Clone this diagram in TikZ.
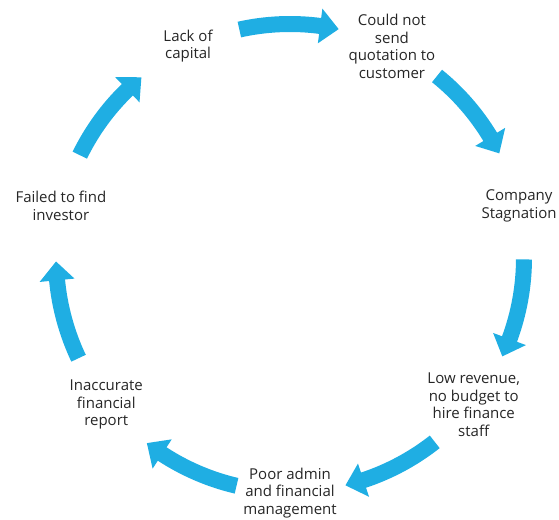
\documentclass[tikz,border=0pt]{standalone}
\usepackage{fontspec}
\setmainfont{Open Sans}
\definecolor{cycblue}{HTML}{1FAEE3}
\definecolor{cyctext}{HTML}{262626}
\tikzset{
  cyclabel/.style={align=center, text=cyctext, inner sep=0pt,
    font=\fontsize{15pt}{17.5pt}\selectfont},
  cycarrowfill/.style={fill=cycblue, draw=none}
}
\begin{document}
\begin{tikzpicture}[x=1pt,y=1pt]
\useasboundingbox (-290,-261) rectangle (269,258);
% labels on a circle, radius 235
\node[cyclabel] (poor)   at (270:235)    {Poor admin\\and financial\\management};
\node[cyclabel] (low)    at (321.43:235) {Low revenue,\\no budget to\\hire finance\\staff};
\node[cyclabel] (stag)   at (12.86:235)  {Company\\Stagnation};
\node[cyclabel] (quote)  at (64.29:235)  {Could not\\send\\quotation to\\customer};
\node[cyclabel] (lack)   at (115.71:235) {Lack of\\capital};
\node[cyclabel] (invest) at (167.14:235) {Failed to find\\investor};
\node[cyclabel] (report) at (218.57:235) {Inaccurate\\financial\\report};
% curved block arrows in the gaps (clockwise)
\foreach \m in {90, 38.57, -12.86, -64.29, -115.71, -167.14, -218.57} {
  \pgfmathsetmacro{\ta}{\m+12.5}
  \pgfmathsetmacro{\hb}{\m-7.4}
  \pgfmathsetmacro{\tp}{\m-12}
  \fill[cycarrowfill] (\ta:242) arc[start angle=\ta, end angle=\hb, radius=242]
    -- (\hb:251.5) -- (\tp:234) -- (\hb:216.5) -- (\hb:226)
    arc[start angle=\hb, end angle=\ta, radius=226] -- cycle;
}
\end{tikzpicture}
\end{document}
